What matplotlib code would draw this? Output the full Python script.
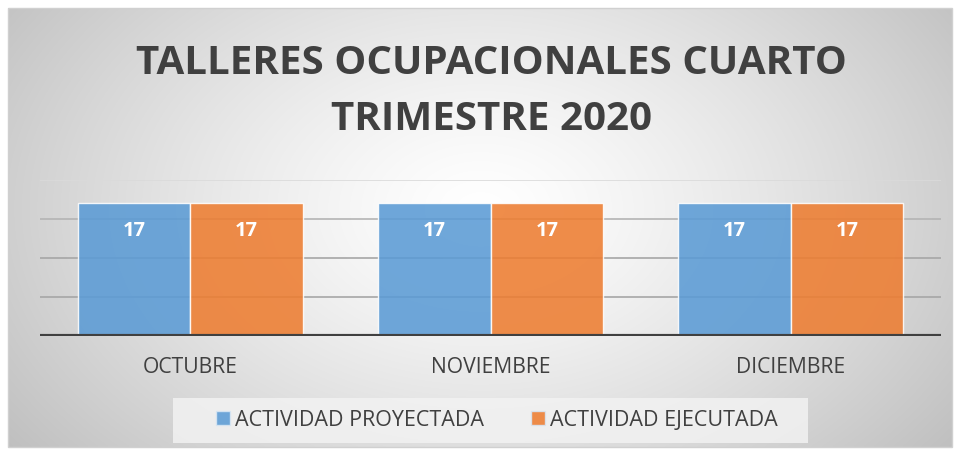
import numpy as np
import matplotlib
matplotlib.use("Agg")
import matplotlib.pyplot as plt
from matplotlib.patches import Rectangle

categories = ["OCTUBRE", "NOVIEMBRE", "DICIEMBRE"]
proyectada = [17, 17, 17]
ejecutada = [17, 17, 17]
series_names = ["ACTIVIDAD PROYECTADA", "ACTIVIDAD EJECUTADA"]

W, H = 960, 453
fig = plt.figure(figsize=(W / 100, H / 100), dpi=100)
fig.patch.set_facecolor("white")

# radial gradient background
bg = fig.add_axes([8 / W, 6 / H, 944 / W, 439 / H], zorder=0)
yy, xx = np.mgrid[0:220, 0:470]
cx, cy = 235, 100
r = np.sqrt(((xx - cx) / 235.0) ** 2 + ((yy - cy) / 160.0) ** 2)
r = np.clip(r / 1.25, 0, 1)
val = 1.0 - 0.25 * r ** 1.3
img = np.dstack([val, val, val])
bg.imshow(img, aspect="auto", extent=[0, 1, 0, 1], interpolation="bilinear")
bg.set_xlim(0, 1)
bg.set_ylim(0, 1)
bg.axis("off")
fig.patches.append(Rectangle((8 / W, 6 / H), 944 / W, 439 / H, transform=fig.transFigure,
                             fill=False, edgecolor="#D0D0D0", linewidth=1, zorder=1))

font = "Open Sans"

ax = fig.add_axes([40 / W, (H - 336) / H, 901 / W, 156 / H], zorder=2)
ax.patch.set_alpha(0)
x = np.arange(len(categories))
bw = 0.375
blue = "#5B9BD5"
orange = "#ED7D31"
for yv, c in [(5, "#A6A6A6"), (10, "#A6A6A6"), (15, "#B4B4B4"), (20, "#DADADA")]:
    ax.axhline(yv, color=c, linewidth=1.2, zorder=1)
b1 = ax.bar(x - bw / 2, proyectada, bw, color=blue, alpha=0.88, edgecolor="#FFFFFF",
            linewidth=1.0, zorder=2, label=series_names[0])
b2 = ax.bar(x + bw / 2, ejecutada, bw, color=orange, alpha=0.88, edgecolor="#FFFFFF",
            linewidth=1.0, zorder=2, label=series_names[1])
for bars, vals in [(b1, proyectada), (b2, ejecutada)]:
    for rect, v in zip(bars, vals):
        ax.text(rect.get_x() + rect.get_width() / 2, v - 3.5, str(v), ha="center", va="center",
                color="white", fontsize=14.5, fontweight="bold", family=font, zorder=3)
ax.axhline(0, color="#404040", linewidth=3, zorder=4)
ax.set_xlim(-0.5, 2.5)
ax.set_ylim(0, 20)
ax.set_yticks([])
ax.set_xticks(x)
ax.set_xticklabels(categories, fontsize=15.2, color="#404040", family=font)
ax.tick_params(axis="x", length=0, pad=15)
for s in ax.spines.values():
    s.set_visible(False)

fig.text(491 / W, (H - 64) / H, "TALLERES OCUPACIONALES CUARTO", ha="center", va="center",
         fontsize=29, fontweight="bold", color="#404040", family=font)
fig.text(492 / W, (H - 120) / H, "TRIMESTRE 2020", ha="center", va="center",
         fontsize=29, fontweight="bold", color="#404040", family=font)

# legend box
fig.patches.append(Rectangle((173 / W, (H - 443) / H), 635 / W, 45 / H, transform=fig.transFigure,
                             facecolor="#F2F2F2", edgecolor="none", alpha=0.85, zorder=1))
leg = fig.legend(handles=[b1, b2], labels=series_names, loc="center",
                 bbox_to_anchor=(497 / W, (H - 420) / H), ncol=2, frameon=False,
                 prop={"family": font, "size": 15.5}, handlelength=0.62, handleheight=0.62,
                 handletextpad=0.25, columnspacing=2.2, labelcolor="#404040")
for h in leg.legend_handles:
    h.set_edgecolor("#D8E6F3")

fig.savefig("out.png", dpi=100)
